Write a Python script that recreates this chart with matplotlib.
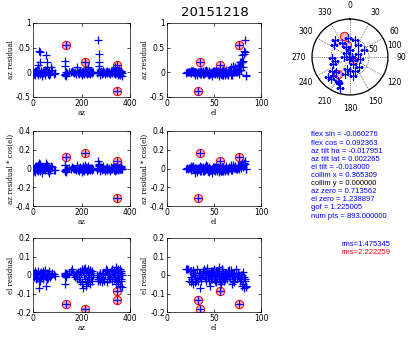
import numpy as np
import matplotlib
matplotlib.use('Agg')
import matplotlib.pyplot as plt
from matplotlib.ticker import FuncFormatter

# pointing residual data (az [deg], el [deg], az residual, el residual)
az_a = [3, 5, 8, 10, 12, 14, 16, 18, 20, 22, 24, 25, 27, 28, 30, 33, 35, 38, 40, 43,
        45, 48, 50, 52, 55, 57, 58, 60, 63, 65, 68, 72, 75, 78, 85, 90]
el_a = [30, 35, 40, 45, 50, 28, 55, 60, 65, 75, 70, 82, 83, 78, 38, 42, 25, 48, 52, 58,
        62, 66, 68, 72, 80, 79, 76, 44, 36, 30, 54, 64, 77, 70, 46, 50]
azr_a = [0.01, -0.03, 0.02, -0.05, 0.0, 0.03, -0.02, 0.04, -0.06, 0.15, 0.05, 0.44, 0.42, 0.2, -0.04, 0.01, 0.02, -0.07, 0.03, -0.02,
         0.0, 0.05, -0.05, 0.02, 0.35, 0.2, 0.1, -0.03, 0.01, -0.06, 0.03, -0.04, 0.1, 0.05, -0.03, -0.02]
elr_a = [0.01, -0.01, 0.02, 0.0, -0.02, 0.01, 0.005, -0.015, 0.02, 0.0, -0.03, -0.07, -0.02, -0.03, 0.01, 0.015, -0.01, 0.0, 0.02, -0.02,
         0.01, -0.005, 0.025, -0.01, -0.06, -0.02, 0.01, 0.005, -0.015, 0.01, 0.02, -0.01, 0.0, 0.01, 0.005, -0.005]

az_b = [130, 131, 132, 133, 134, 135, 136, 138, 139]
el_b = [58, 60, 62, 81, 70, 55, 65, 57, 63]
azr_b = [-0.05, -0.03, -0.06, 0.22, 0.12, -0.07, 0.0, -0.04, -0.02]
elr_b = [0.0, 0.01, 0.005, -0.05, -0.005, -0.01, 0.01, 0.0, 0.005]

az_c = [150, 155, 160, 165, 170, 175, 178, 180, 182, 185, 188, 190, 193, 195, 198, 200, 202, 204, 206, 208,
        210, 212, 214, 216, 218, 220, 222, 224, 225, 226, 228, 230, 232, 234, 236, 238, 240, 242, 244, 246]
el_c = [45, 48, 50, 52, 55, 58, 60, 68, 62, 40, 42, 44, 38, 36, 34, 30, 32, 28, 26, 35,
        37, 39, 41, 43, 46, 49, 51, 53, 72, 56, 59, 61, 64, 66, 69, 71, 74, 47, 33, 29]
azr_c = [0.01, 0.0, 0.02, 0.01, -0.01, 0.0, -0.03, 0.1, 0.02, -0.02, 0.01, -0.04, 0.0, 0.02, -0.01, 0.01, -0.05, 0.0, 0.03, -0.02,
         0.01, -0.03, 0.05, 0.0, -0.01, 0.02, -0.04, 0.01, 0.1, -0.02, 0.03, 0.0, -0.01, 0.02, -0.03, 0.01, 0.0, -0.02, 0.01, 0.0]
elr_c = [0.01, 0.02, 0.035, 0.01, 0.0, -0.01, 0.005, 0.01, -0.02, 0.015, 0.0, -0.01, 0.02, -0.03, 0.01, -0.04, 0.03, -0.05, 0.02, -0.07,
         0.0, 0.035, -0.02, 0.04, -0.06, 0.01, -0.03, 0.02, -0.01, -0.04, 0.03, 0.0, -0.02, 0.025, -0.05, 0.01, -0.01, 0.02, -0.03, 0.0]

az_d = [265, 268, 270, 271, 272, 273, 275, 278, 280, 283, 285, 288, 290, 294, 298]
el_d = [50, 55, 83, 82, 80, 78, 60, 45, 40, 65, 52, 48, 35, 42, 57]
azr_d = [-0.02, 0.01, 0.65, 0.38, 0.2, 0.12, -0.05, 0.0, 0.02, -0.03, 0.01, -0.01, 0.03, 0.0, -0.04]
elr_d = [0.0, -0.02, -0.03, -0.01, 0.0, -0.02, 0.01, -0.03, -0.01, 0.005, -0.04, -0.02, 0.01, -0.03, 0.0]

az_e = [300, 302, 305, 307, 310, 312, 315, 317, 320, 322, 325, 327, 330, 332, 334, 336, 338, 340, 341, 342,
        343, 344, 346, 347, 348, 349, 350, 352, 354, 355, 356, 358, 359, 360, 361, 362, 363, 364, 365, 366]
el_e = [22, 24, 26, 28, 30, 32, 34, 36, 38, 40, 20, 23, 45, 47, 49, 51, 53, 81, 55, 57,
        59, 61, 63, 65, 67, 69, 71, 73, 75, 77, 79, 84, 21, 25, 27, 29, 31, 43, 58, 84]
azr_e = [0.0, 0.01, -0.02, 0.02, 0.0, -0.01, 0.01, -0.03, 0.02, 0.0, -0.01, 0.01, 0.03, -0.02, 0.0, 0.02, -0.04, 0.1, 0.01, -0.02,
         0.03, 0.0, 0.05, -0.01, 0.02, -0.05, 0.01, 0.0, 0.03, -0.03, 0.04, -0.06, 0.01, 0.0, 0.02, -0.01, 0.01, 0.03, -0.02, -0.07]
elr_e = [0.03, 0.02, -0.04, 0.025, 0.0, -0.02, 0.01, -0.01, 0.02, 0.005, 0.03, -0.03, 0.01, -0.02, 0.02, 0.0, -0.01, 0.015, 0.045, -0.05,
         0.03, -0.03, 0.01, 0.02, -0.02, 0.0, -0.04, 0.03, 0.01, -0.01, 0.0, -0.06, 0.03, 0.02, -0.02, 0.01, -0.03, 0.02, 0.0, -0.065]

# flagged (red circle) points
out_az = [135, 215, 345, 345]
out_el = [77, 35, 56, 33]
out_azr = [0.55, 0.2, 0.15, -0.37]
out_elr = [-0.155, -0.185, -0.085, -0.135]

# sky positions for the polar plot (az, 90-el)
pos_az = [307, 331, 340, 0, 315, 270, 200, 90, 135, 68, 100, 153, 196, 180, 197, 222, 222,
          227, 220, 207, 198, 170, 248, 257, 140, 355, 17, 63, 319, 34, 232, 204, 161, 267]
pos_zen = [52, 41, 27, 18, 15, 15, 5, 4, 13, 24, 27, 20, 32, 36, 47, 54, 66,
           79, 76, 70, 85, 50, 48, 41, 35, 49, 47, 40, 60, 39, 61, 74, 40, 48]

fit_lines = ['flex sin = -0.060276', 'flex cos = 0.092363', 'az tilt ha = -0.017951',
             'az tilt lat = 0.002265', 'el tilt = -0.018000', 'collim x = 0.365309',
             'collim y = 0.000000', 'az zero = 0.713562', 'el zero = 1.238897',
             'gof = 1.225005', 'num pts = 893.000000']
rms_lines = ['rms=1.475345', 'rms=2.222259']

az = np.array(az_a + az_b + az_c + az_d + az_e + out_az, dtype=float)
el = np.array(el_a + el_b + el_c + el_d + el_e + out_el, dtype=float)
azr = np.array(azr_a + azr_b + azr_c + azr_d + azr_e + out_azr)
elr = np.array(elr_a + elr_b + elr_c + elr_d + elr_e + out_elr)
azr_cos = azr * np.cos(np.radians(el))
o_az = np.array(out_az, dtype=float)
o_el = np.array(out_el, dtype=float)
o_azr = np.array(out_azr)
o_azr_cos = o_azr * np.cos(np.radians(o_el))
o_elr = np.array(out_elr)

W, H = 409, 341
fig = plt.figure(figsize=(W / 100, H / 100), dpi=100)


def pos(l, t, w, h):
    return [l / W, 1 - (t + h) / H, w / W, h / H]


fmt = FuncFormatter(lambda v, p: '%g' % round(v, 6))
lab_font = dict(family='DejaVu Serif', fontsize=5)
circ = dict(ms=6, mfc=(1, 0.7, 0.75), mec='red', mew=0.7, zorder=2)
plus = dict(color='blue', ms=6, mew=0.9, zorder=3)

panels = [
    (pos(33, 23, 97, 74), az, azr, o_az, o_azr, 'az', 'az residual', (0, 400), [0, 200, 400], (-0.5, 1), [-0.5, 0, 0.5, 1]),
    (pos(167, 23, 94, 74), el, azr, o_el, o_azr, 'el', 'az residual', (0, 100), [0, 50, 100], (-0.5, 1), [-0.5, 0, 0.5, 1]),
    (pos(33, 131, 97, 75), az, azr_cos, o_az, o_azr_cos, 'az', 'az residual * cos(el)', (0, 400), [0, 200, 400], (-0.4, 0.4), [-0.4, -0.2, 0, 0.2, 0.4]),
    (pos(167, 131, 94, 75), el, azr_cos, o_el, o_azr_cos, 'el', 'az residual * cos(el)', (0, 100), [0, 50, 100], (-0.4, 0.4), [-0.4, -0.2, 0, 0.2, 0.4]),
    (pos(33, 238, 97, 74), az, elr, o_az, o_elr, 'az', 'el residual', (0, 400), [0, 200, 400], (-0.2, 0.2), [-0.2, -0.1, 0, 0.1, 0.2]),
    (pos(167, 238, 94, 74), el, elr, o_el, o_elr, 'el', 'el residual', (0, 100), [0, 50, 100], (-0.2, 0.2), [-0.2, -0.1, 0, 0.1, 0.2]),
]

for rect, x, y, ox, oy, xl, yl, xlim, xt, ylim, yt in panels:
    ax = fig.add_axes(rect)
    ax.plot(ox, oy, 'o', **circ)
    ax.plot(x, y, '+', **plus)
    ax.set_xlim(xlim)
    ax.set_ylim(ylim)
    ax.set_xticks(xt)
    ax.set_yticks(yt)
    ax.xaxis.set_major_formatter(fmt)
    ax.yaxis.set_major_formatter(fmt)
    ax.tick_params(direction='in', length=2, width=0.5, labelsize=5.5, pad=1.5,
                   top=True, right=True)
    for s in ax.spines.values():
        s.set_linewidth(0.5)
    ax.set_xlabel(xl, labelpad=1, **lab_font)
    ax.set_ylabel(yl, labelpad=1, **lab_font)

fig.text(215 / W, 1 - 12 / H, '20151218', ha='center', va='center', fontsize=9.5)

# polar plot of sky positions
pax = fig.add_axes(pos(312, 19, 76, 76), projection='polar')
pax.set_theta_zero_location('N')
pax.set_theta_direction(-1)
pax.plot(np.radians(out_az), 90 - o_el, 'o', **circ)
pax.plot(np.radians(pos_az), pos_zen, '+', **plus)
pax.set_ylim(0, 100)
pax.set_rticks([50, 100])
pax.set_rlabel_position(80)
pax.set_thetagrids(range(0, 360, 30), [str(a) for a in range(0, 360, 30)])
pax.grid(True, linestyle=':', color='black', linewidth=0.5)
pax.tick_params(labelsize=5.5, pad=-1)
pax.spines['polar'].set_linewidth(0.9)

for i, line in enumerate(fit_lines):
    color = 'black' if line.startswith('collim y') else 'blue'
    fig.text(311 / W, 1 - (135 + i * 8.1) / H, line, ha='left', va='center',
             fontsize=5.5, color=color, family='Liberation Sans')

fig.text(390 / W, 1 - 244 / H, rms_lines[0], ha='right', va='center', fontsize=5.5,
         color='blue', family='Liberation Sans')
fig.text(390 / W, 1 - 253 / H, rms_lines[1], ha='right', va='center', fontsize=5.5,
         color='red', family='Liberation Sans')

fig.savefig('out.png', dpi=100)
